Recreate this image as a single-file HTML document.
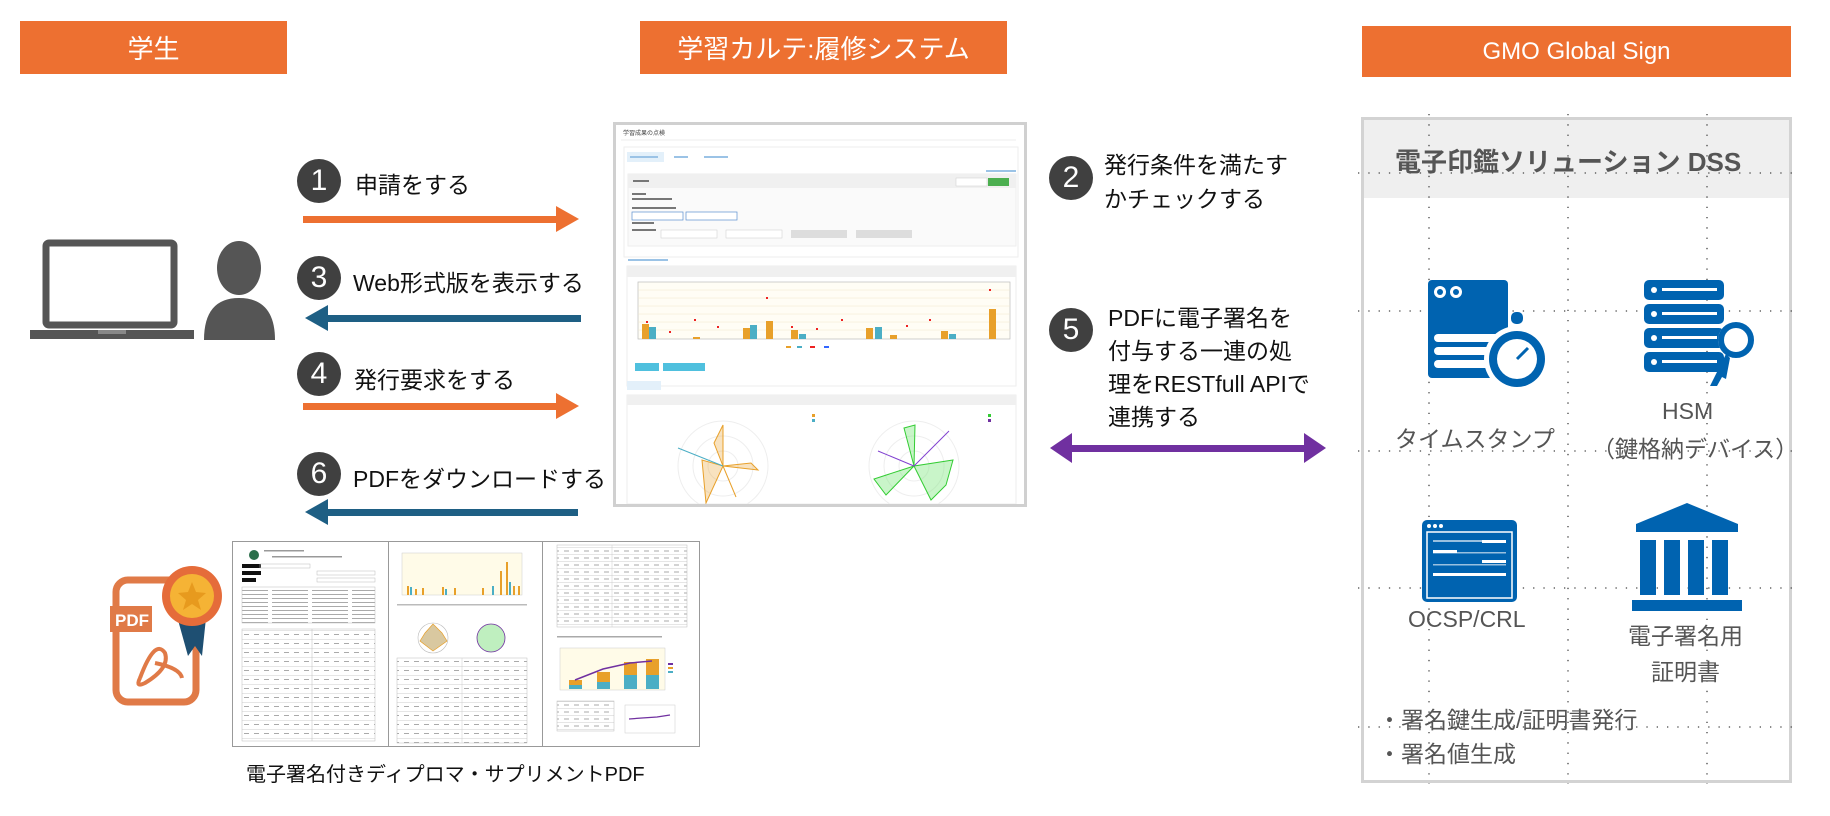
<!DOCTYPE html>
<html><head><meta charset="utf-8">
<style>
body{margin:0;width:1830px;height:816px;background:#fff;position:relative;overflow:hidden;font-family:"Liberation Sans","Noto Sans CJK JP",sans-serif;}
.a{position:absolute}
.hdr{position:absolute;background:#ED7031;color:#fff;font-size:26px;display:flex;align-items:center;justify-content:center}
.num{position:absolute;width:44px;height:44px;border-radius:50%;background:#404040;color:#fff;font-size:30px;display:flex;align-items:center;justify-content:center}
.lbl{position:absolute;font-size:23px;color:#111;white-space:nowrap}
.t{position:absolute;font-size:23px;color:#555;white-space:nowrap}
</style></head><body>
<div class="hdr" style="left:20px;top:21px;width:267px;height:53px">学生</div>
<div class="hdr" style="left:640px;top:21px;width:367px;height:53px">学習カルテ:履修システム</div>
<div class="hdr" style="left:1362px;top:26px;width:429px;height:51px;font-size:24px">GMO Global Sign</div>

<svg class="a" style="left:28px;top:236px" width="256" height="108">
<rect x="18" y="7" width="128" height="82" rx="3" fill="none" stroke="#555" stroke-width="7"/>
<rect x="2" y="94" width="164" height="9" fill="#555"/>
<rect x="70" y="94" width="28" height="4" fill="#888"/>
<ellipse cx="211" cy="32" rx="22" ry="27" fill="#555"/>
<path d="M176 104 Q176 62 211 62 Q247 62 247 104 Z" fill="#555"/>
</svg>

<svg class="a" style="left:0;top:0" width="1830" height="816">
<rect x="303" y="216" width="258" height="7" fill="#ED7031"/><polygon points="556,206 579,219 556,232" fill="#ED7031"/>
<rect x="323" y="315" width="258" height="7" fill="#1E5F84"/><polygon points="328,305 305,318 328,331" fill="#1E5F84"/>
<rect x="303" y="403" width="258" height="7" fill="#ED7031"/><polygon points="556,393 579,406 556,419" fill="#ED7031"/>
<rect x="323" y="509" width="255" height="7" fill="#1E5F84"/><polygon points="328,499 305,512 328,525" fill="#1E5F84"/>
<rect x="1068" y="445" width="240" height="7" fill="#7030A0"/>
<polygon points="1072,433 1050,448 1072,463" fill="#7030A0"/><polygon points="1304,433 1326,448 1304,463" fill="#7030A0"/>
</svg>

<div class="num" style="left:297px;top:159px">1</div><div class="lbl" style="left:355px;top:166px">申請をする</div>
<div class="num" style="left:297px;top:256px">3</div><div class="lbl" style="left:353px;top:264px">Web形式版を表示する</div>
<div class="num" style="left:297px;top:352px">4</div><div class="lbl" style="left:354px;top:361px">発行要求をする</div>
<div class="num" style="left:297px;top:452px">6</div><div class="lbl" style="left:353px;top:460px">PDFをダウンロードする</div>
<div class="num" style="left:1049px;top:156px">2</div>
<div class="lbl" style="left:1104px;top:148px;line-height:34px">発行条件を満たす<br>かチェックする</div>
<div class="num" style="left:1049px;top:308px">5</div>
<div class="lbl" style="left:1108px;top:302px;line-height:33px">PDFに電子署名を<br>付与する一連の処<br>理をRESTfull APIで<br>連携する</div>

<!-- screenshot -->
<div class="a" style="left:613px;top:122px;width:408px;height:379px;border:3px solid #d0d0d0;background:#fff"></div>
<svg class="a" style="left:616px;top:125px" width="408" height="379" font-family="Liberation Sans,Noto Sans CJK JP" font-size="4">
<text x="7" y="10" font-size="6" fill="#444">学習成果の点検</text>
<line x1="5" y1="15" x2="400" y2="15" stroke="#eee"/>
<rect x="8" y="22" width="394" height="110" fill="none" stroke="#eee"/>
<rect x="11" y="27" width="37" height="10" fill="#e3f0fa"/>
<g fill="#9bc3e6"><rect x="14" y="31" width="28" height="2"/><rect x="58" y="31" width="14" height="2"/><rect x="88" y="31" width="24" height="2"/><rect x="370" y="45" width="30" height="2"/><rect x="12" y="134" width="40" height="2"/></g>
<rect x="12" y="49" width="388" height="72" fill="#fafafa" stroke="#eee"/>
<rect x="12" y="49" width="388" height="14" fill="#f0f0f0"/>
<g fill="#777"><rect x="17" y="55" width="16" height="2"/><rect x="16" y="68" width="14" height="2"/><rect x="16" y="73" width="40" height="2"/><rect x="16" y="82" width="44" height="2"/><rect x="16" y="97" width="22" height="2"/><rect x="16" y="104" width="24" height="2"/><rect x="19" y="156" width="30" height="1.5"/><rect x="19" y="209" width="76" height="1.5"/></g>
<rect x="340" y="53" width="31" height="8" fill="#fff" stroke="#ccc" stroke-width=".5"/>
<rect x="372" y="53" width="21" height="8" fill="#4CAF50"/>
<rect x="16" y="87" width="51" height="8" fill="#fff" stroke="#5a8fcf" stroke-width=".7"/>
<rect x="70" y="87" width="51" height="8" fill="#fff" stroke="#5a8fcf" stroke-width=".7"/>
<rect x="45" y="105" width="56" height="8" fill="#fff" stroke="#ccc" stroke-width=".5"/>
<rect x="110" y="105" width="56" height="8" fill="#fff" stroke="#ccc" stroke-width=".5"/>
<rect x="175" y="105" width="56" height="8" fill="#ddd"/>
<rect x="240" y="105" width="56" height="8" fill="#ddd"/>
<rect x="11" y="141" width="389" height="120" fill="#fff" stroke="#eee"/>
<rect x="11" y="141" width="389" height="11" fill="#f0f0f0"/>
<rect x="22" y="157" width="372" height="57" fill="#fffdf5" stroke="#bbb" stroke-width=".7"/>
<g stroke="#f0e6cc" stroke-width=".5"><line x1="22" y1="165" x2="394" y2="165"/><line x1="22" y1="173" x2="394" y2="173"/><line x1="22" y1="181" x2="394" y2="181"/><line x1="22" y1="189" x2="394" y2="189"/><line x1="22" y1="197" x2="394" y2="197"/><line x1="22" y1="205" x2="394" y2="205"/></g>
<g fill="#E8A02A">
<rect x="26" y="199" width="7" height="15"/><rect x="127" y="203" width="7" height="11"/><rect x="150" y="196" width="7" height="18"/><rect x="175" y="205" width="7" height="9"/><rect x="250" y="203" width="7" height="11"/><rect x="274" y="210" width="7" height="4"/><rect x="325" y="206" width="7" height="8"/><rect x="373" y="184" width="7" height="30"/><rect x="77" y="212" width="7" height="2"/></g>
<g fill="#4BAEC5"><rect x="33" y="202" width="7" height="12"/><rect x="134" y="200" width="7" height="14"/><rect x="183" y="209" width="7" height="5"/><rect x="259" y="202" width="7" height="12"/><rect x="333" y="209" width="7" height="5"/></g>
<g fill="#e22"><rect x="30" y="196" width="2" height="2"/><rect x="53" y="206" width="2" height="2"/><rect x="78" y="194" width="2" height="2"/><rect x="101" y="201" width="2" height="2"/><rect x="150" y="172" width="2" height="2"/><rect x="175" y="201" width="2" height="2"/><rect x="200" y="203" width="2" height="2"/><rect x="225" y="194" width="2" height="2"/><rect x="290" y="200" width="2" height="2"/><rect x="313" y="194" width="2" height="2"/><rect x="373" y="164" width="2" height="2"/></g>
<g><rect x="170" y="221" width="5" height="2" fill="#E8A02A"/><rect x="181" y="221" width="5" height="2" fill="#4BAEC5"/><rect x="194" y="221" width="5" height="2" fill="#e22"/><rect x="208" y="221" width="5" height="2" fill="#36f"/></g>
<rect x="19" y="238" width="24" height="8" fill="#4FC0DE"/><rect x="47" y="238" width="42" height="8" fill="#4FC0DE"/>
<rect x="11" y="256" width="34" height="9" fill="#e3f0fa"/>
<rect x="11" y="270" width="389" height="109" fill="#fff" stroke="#eee"/>
<rect x="11" y="270" width="389" height="10" fill="#f0f0f0"/>
<g transform="translate(107,341)" fill="none" stroke="#eee"><circle r="15"/><circle r="30"/><circle r="45"/></g>
<polygon points="107,300 98,318 107,341 135,338 142,345 107,341 120,372 107,341 90,378 86,335 107,341" fill="rgba(232,160,42,.3)" stroke="#E8A02A"/>
<line x1="107" y1="341" x2="62" y2="323" stroke="#4BAEC5"/>
<g transform="translate(298,341)" fill="none" stroke="#eee"><circle r="15"/><circle r="30"/><circle r="45"/></g>
<polygon points="298,341 288,303 299,300 298,341 337,335 330,360 315,375 298,341 270,370 258,354 298,341" fill="rgba(120,230,120,.4)" stroke="#3c3"/>
<line x1="298" y1="341" x2="333" y2="306" stroke="#8040d0"/><line x1="298" y1="341" x2="262" y2="326" stroke="#8040d0"/>
<rect x="196" y="289" width="3" height="3" fill="#E8A02A"/><rect x="196" y="294" width="3" height="3" fill="#4BAEC5"/>
<rect x="372" y="289" width="3" height="3" fill="#3c3"/><rect x="372" y="294" width="3" height="3" fill="#7030A0"/>
</svg>

<!-- PDF docs -->
<div class="a" style="left:232px;top:541px;width:466px;height:204px;border:1px solid #999;background:#fff"></div>
<div class="a" style="left:388px;top:542px;width:1px;height:204px;background:#999"></div>
<div class="a" style="left:542px;top:542px;width:1px;height:204px;background:#999"></div>
<svg class="a" style="left:232px;top:541px" width="466" height="204">
<defs>
<pattern id="txt" width="40" height="4" patternUnits="userSpaceOnUse"><rect x="0" y="1" width="36" height="1" fill="#aaa"/></pattern>
<pattern id="row" width="10" height="9" patternUnits="userSpaceOnUse"><rect x="0" y="8.5" width="10" height=".6" fill="#ccc"/><rect x="2" y="3" width="5" height="1" fill="#aaa"/></pattern>
<pattern id="row2" width="10" height="7" patternUnits="userSpaceOnUse"><rect x="0" y="6.5" width="10" height=".6" fill="#ccc"/><rect x="2" y="2.5" width="5" height="1" fill="#aaa"/></pattern>
</defs>
<!-- page1 -->
<circle cx="22" cy="14" r="5" fill="#2a6e4a"/>
<rect x="32" y="9" width="40" height="1.5" fill="#999"/><rect x="40" y="15" width="70" height="1.5" fill="#999"/>
<rect x="10" y="23" width="19" height="4" fill="#111"/><rect x="10" y="30" width="19" height="4" fill="#111"/><rect x="10" y="37" width="14" height="4" fill="#111"/>
<rect x="28" y="23" width="50" height="4" fill="none" stroke="#bbb" stroke-width=".5"/><rect x="85" y="30" width="58" height="4" fill="none" stroke="#bbb" stroke-width=".5"/><rect x="85" y="37" width="58" height="4" fill="none" stroke="#bbb" stroke-width=".5"/>
<rect x="10" y="46" width="133" height="36" fill="url(#txt)" stroke="#bbb" stroke-width=".5"/>
<rect x="10" y="88" width="133" height="112" fill="url(#row)" stroke="#bbb" stroke-width=".5"/>
<line x1="80" y1="88" x2="80" y2="200" stroke="#bbb" stroke-width=".5"/>
<!-- page2 -->
<rect x="170" y="12" width="120" height="42" fill="#fffbe8" stroke="#ccc" stroke-width=".5"/>
<g fill="#E8A02A"><rect x="175" y="45" width="2" height="9"/><rect x="183" y="48" width="2" height="6"/><rect x="190" y="47" width="2" height="7"/><rect x="210" y="46" width="2" height="8"/><rect x="222" y="47" width="2" height="7"/><rect x="250" y="47" width="2" height="7"/><rect x="268" y="30" width="2" height="24"/><rect x="274" y="21" width="2" height="33"/><rect x="281" y="45" width="2" height="9"/><rect x="286" y="45" width="2" height="9"/></g>
<g fill="#4BAEC5"><rect x="178" y="46" width="2" height="8"/><rect x="213" y="48" width="2" height="6"/><rect x="260" y="45" width="2" height="9"/><rect x="277" y="41" width="2" height="13"/></g>
<rect x="165" y="63" width="130" height="1.5" fill="#bbb"/>
<polygon points="201,83 210,92 215,100 201,110 188,100 193,92" fill="#d9c8a0" stroke="#E8A02A" stroke-width=".7"/>
<circle cx="201" cy="97" r="15" fill="none" stroke="#bbb" stroke-width=".6"/>
<circle cx="259" cy="97" r="14" fill="#bfefbf" stroke="#7030A0" stroke-width=".8"/>
<rect x="165" y="117" width="130" height="85" fill="url(#row)" stroke="#bbb" stroke-width=".5"/>
<line x1="230" y1="117" x2="230" y2="202" stroke="#ccc" stroke-width=".5"/>
<!-- page3 -->
<rect x="325" y="4" width="130" height="82" fill="url(#row2)" stroke="#bbb" stroke-width=".5"/>
<line x1="380" y1="4" x2="380" y2="86" stroke="#ccc" stroke-width=".5"/>
<rect x="325" y="95" width="105" height="1.5" fill="#aaa"/>
<rect x="328" y="107" width="105" height="42" fill="#fffbe8" stroke="#ccc" stroke-width=".5"/>
<rect x="337" y="139" width="13" height="5" fill="#E8A02A"/><rect x="337" y="144" width="13" height="4" fill="#4BAEC5"/>
<rect x="365" y="131" width="13" height="10" fill="#E8A02A"/><rect x="365" y="141" width="13" height="7" fill="#4BAEC5"/>
<rect x="392" y="121" width="13" height="13" fill="#E8A02A"/><rect x="392" y="134" width="13" height="14" fill="#4BAEC5"/>
<rect x="414" y="118" width="13" height="16" fill="#E8A02A"/><rect x="414" y="134" width="13" height="14" fill="#4BAEC5"/>
<polyline points="343,139 371,128 398,122 420,120" fill="none" stroke="#7030A0" stroke-width="1.5"/>
<rect x="436" y="122" width="5" height="2" fill="#7030A0"/><rect x="436" y="126" width="5" height="2" fill="#E8A02A"/><rect x="436" y="130" width="5" height="2" fill="#4BAEC5"/>
<rect x="325" y="160" width="57" height="30" fill="url(#row2)" stroke="#bbb" stroke-width=".5"/>
<rect x="393" y="164" width="50" height="28" fill="#fff" stroke="#ccc" stroke-width=".5"/>
<polyline points="397,178 410,177 425,176 438,174" fill="none" stroke="#7030A0" stroke-width="1.2"/>
</svg>
<svg class="a" style="left:110px;top:558px" width="118" height="150">
<rect x="6" y="22" width="80" height="122" rx="12" fill="none" stroke="#E07A47" stroke-width="7"/>
<rect x="0" y="48" width="42" height="26" fill="#E07A47"/>
<text x="5" y="68" font-size="17" fill="#fff" font-family="Liberation Sans" font-weight="bold">PDF</text>
<path d="M30 120 Q45 80 55 95 Q60 110 35 125 Q25 130 30 120 M45 105 Q70 110 72 120" fill="none" stroke="#E07A47" stroke-width="4"/>
<polygon points="68,62 78,98 85,88 92,98 96,60" fill="#1E4F72"/>
<circle cx="82" cy="38" r="30" fill="#E56C3A"/>
<circle cx="82" cy="38" r="22" fill="#F5B335"/>
<polygon points="82,24 86,34 96,35 88,42 91,52 82,46 73,52 76,42 68,35 78,34" fill="#E79A1E"/>
</svg>
<div class="t" style="left:246px;top:758px;color:#111;font-size:20px">電子署名付きディプロマ・サプリメントPDF</div>

<!-- DSS panel -->
<div class="a" style="left:1361px;top:117px;width:425px;height:660px;border:3px solid #d3d3d3;background:#fff"></div>
<div class="a" style="left:1364px;top:120px;width:425px;height:78px;background:#efefef"></div>
<svg class="a" style="left:1358px;top:114px" width="436" height="670">
<g stroke="#444" stroke-width="1.3" stroke-dasharray="1.3 9">
<line x1="0" y1="59" x2="436" y2="59"/><line x1="0" y1="197" x2="436" y2="197"/><line x1="0" y1="337" x2="436" y2="337"/><line x1="0" y1="474" x2="436" y2="474"/><line x1="0" y1="613" x2="436" y2="613"/>
<line x1="71" y1="0" x2="71" y2="670"/><line x1="210" y1="0" x2="210" y2="670"/><line x1="349" y1="0" x2="349" y2="670"/>
</g>
</svg>
<div class="t" style="left:1395px;top:142px;font-size:26px;font-weight:bold;color:#555">電子印鑑ソリューション DSS</div>
<svg class="a" style="left:1420px;top:272px" width="140" height="125" fill="#0063B0">
<rect x="8" y="8" width="80" height="98" rx="4"/>
<circle cx="20" cy="20" r="6" fill="#fff"/><circle cx="36" cy="20" r="6" fill="#fff"/><circle cx="20" cy="20" r="3"/><circle cx="36" cy="20" r="3"/>
<rect x="14" y="62" width="90" height="8" rx="4" fill="#fff"/><rect x="14" y="75" width="70" height="8" rx="4" fill="#fff"/><rect x="14" y="88" width="70" height="8" rx="4" fill="#fff"/>
<circle cx="97" cy="87" r="33" fill="#fff"/><circle cx="97" cy="87" r="28"/><circle cx="97" cy="87" r="20" fill="#fff"/>
<rect x="91" y="40" width="12" height="12" rx="5"/>
<line x1="97" y1="87" x2="108" y2="76" stroke="#0063B0" stroke-width="3"/>
</svg>
<svg class="a" style="left:1640px;top:276px" width="120" height="116" fill="#0063B0">
<rect x="4" y="4" width="80" height="20" rx="5"/><rect x="4" y="28" width="80" height="20" rx="5"/><rect x="4" y="52" width="80" height="20" rx="5"/><rect x="4" y="76" width="80" height="20" rx="5"/>
<g fill="#fff"><circle cx="14" cy="14" r="3"/><circle cx="14" cy="38" r="3"/><circle cx="14" cy="62" r="3"/><circle cx="14" cy="86" r="3"/>
<rect x="22" y="12" width="55" height="3"/><rect x="22" y="36" width="55" height="3"/><rect x="22" y="60" width="55" height="3"/><rect x="22" y="84" width="55" height="3"/></g>
<circle cx="96" cy="64" r="18" fill="#fff"/><circle cx="96" cy="64" r="15" fill="none" stroke="#0063B0" stroke-width="6"/>
<path d="M86 78 L70 110 L77 110 L82 101 L86 103 L90 82Z"/>
</svg>
<div class="t" style="left:1395px;top:420px">タイムスタンプ</div>
<div class="t" style="left:1662px;top:398px">HSM</div>
<div class="t" style="left:1592px;top:430px">（鍵格納デバイス）</div>
<svg class="a" style="left:1420px;top:518px" width="100" height="88" fill="#0063B0">
<rect x="2" y="2" width="95" height="82" rx="5"/>
<rect x="7" y="14" width="85" height="66" fill="none" stroke="#fff" stroke-width="1.5"/>
<g fill="#fff"><circle cx="9" cy="8" r="2"/><circle cx="15" cy="8" r="2"/><circle cx="21" cy="8" r="2"/>
<rect x="13" y="22" width="73" height="2" opacity=".6"/><rect x="62" y="22" width="24" height="3"/><rect x="13" y="32" width="24" height="3"/><rect x="13" y="34" width="73" height="1.5" opacity=".6"/><rect x="62" y="42" width="24" height="3"/><rect x="13" y="46" width="73" height="1.5" opacity=".6"/><rect x="13" y="55" width="73" height="3"/></g>
</svg>
<svg class="a" style="left:1630px;top:500px" width="115" height="115" fill="#0063B0">
<polygon points="57,3 108,24 108,32 6,32 6,24"/>
<rect x="10" y="40" width="16" height="55"/><rect x="34" y="40" width="16" height="55"/><rect x="58" y="40" width="16" height="55"/><rect x="82" y="40" width="16" height="55"/>
<rect x="2" y="100" width="110" height="11"/>
</svg>
<div class="t" style="left:1408px;top:606px">OCSP/CRL</div>
<div class="t" style="left:1628px;top:618px;text-align:center;line-height:36px">電子署名用<br>証明書</div>
<div class="t" style="left:1378px;top:703px;line-height:34px">・署名鍵生成/証明書発行<br>・署名値生成</div>
</body></html>
